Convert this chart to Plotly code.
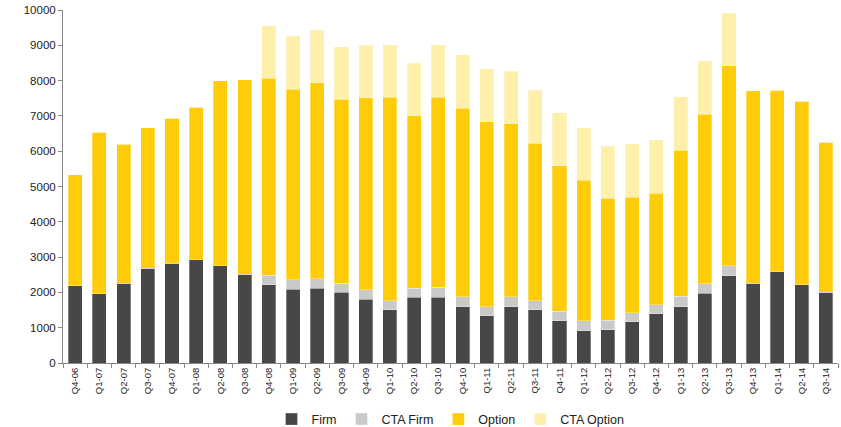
import plotly.graph_objects as go

quarters = ["Q4-06",
            "Q1-07", "Q2-07", "Q3-07", "Q4-07",
            "Q1-08", "Q2-08", "Q3-08", "Q4-08",
            "Q1-09", "Q2-09", "Q3-09", "Q4-09",
            "Q1-10", "Q2-10", "Q3-10", "Q4-10",
            "Q1-11", "Q2-11", "Q3-11", "Q4-11",
            "Q1-12", "Q2-12", "Q3-12", "Q4-12",
            "Q1-13", "Q2-13", "Q3-13", "Q4-13",
            "Q1-14", "Q2-14", "Q3-14"]

firm = [2190,
        1960, 2260, 2690, 2830,
        2920, 2750, 2520, 2210,
        2090, 2120, 2000, 1810,
        1510, 1860, 1860, 1600,
        1340, 1600, 1510, 1200,
        920, 940, 1170, 1400,
        1600, 1980, 2470, 2260,
        2590, 2220, 2010]

cta_firm = [0,
            0, 0, 0, 0,
            0, 0, 0, 280,
            270, 260, 260, 260,
            260, 260, 280, 280,
            250, 270, 260, 260,
            270, 270, 260, 250,
            290, 270, 280, 0,
            0, 0, 0]

option = [3150,
          4570, 3940, 3980, 4110,
          4330, 5250, 5500, 5570,
          5400, 5560, 5210, 5440,
          5760, 4880, 5390, 5340,
          5250, 4910, 4460, 4130,
          3990, 3460, 3270, 3160,
          4130, 4790, 5670, 5450,
          5140, 5200, 4250]

cta_option = [0,
              0, 0, 0, 0,
              0, 0, 0, 1500,
              1500, 1490, 1490, 1490,
              1490, 1490, 1490, 1510,
              1490, 1490, 1500, 1500,
              1490, 1490, 1510, 1510,
              1520, 1520, 1490, 0,
              0, 0, 0]

series = [
    ("Firm", firm, "#474747"),
    ("CTA Firm", cta_firm, "#C9C9C9"),
    ("Option", option, "#FECC08"),
    ("CTA Option", cta_option, "#FEEFAA"),
]

fig = go.Figure()
for name, vals, color in series:
    fig.add_trace(go.Bar(
        x=quarters, y=vals, name=name,
        marker=dict(color=color, line=dict(color="rgba(255,255,255,0.5)", width=0.6)),
    ))

font_family = "Arial, 'Liberation Sans', sans-serif"

fig.update_layout(
    barmode="stack",
    bargap=0.42,
    width=841, height=427,
    margin=dict(l=63, r=3, t=10, b=64, autoexpand=False),
    paper_bgcolor="white",
    plot_bgcolor="white",
    font=dict(family=font_family, color="#222222", size=11),
    showlegend=True,
    legend=dict(
        orientation="h", x=0.5, xanchor="center", y=-0.16, yanchor="middle",
        font=dict(size=12.5, color="#222222"),
        itemwidth=30, traceorder="normal",
    ),
)

fig.update_xaxes(
    type="category",
    tickangle=-90,
    tickfont=dict(size=9.5, color="#222222"),
    showline=True, linecolor="#888888", linewidth=1,
    ticks="outside", ticklen=4, tickcolor="#888888",
    tickson="boundaries",
    showgrid=False,
    range=[-0.5, len(quarters) - 0.5],
)

fig.update_yaxes(
    range=[0, 10000],
    dtick=1000,
    tickformat="d",
    tickfont=dict(size=11.5, color="#222222"),
    showline=True, linecolor="#888888", linewidth=1,
    ticks="outside", ticklen=4, tickcolor="#888888",
    showgrid=False, zeroline=False,
)

fig.write_html("out.html")
